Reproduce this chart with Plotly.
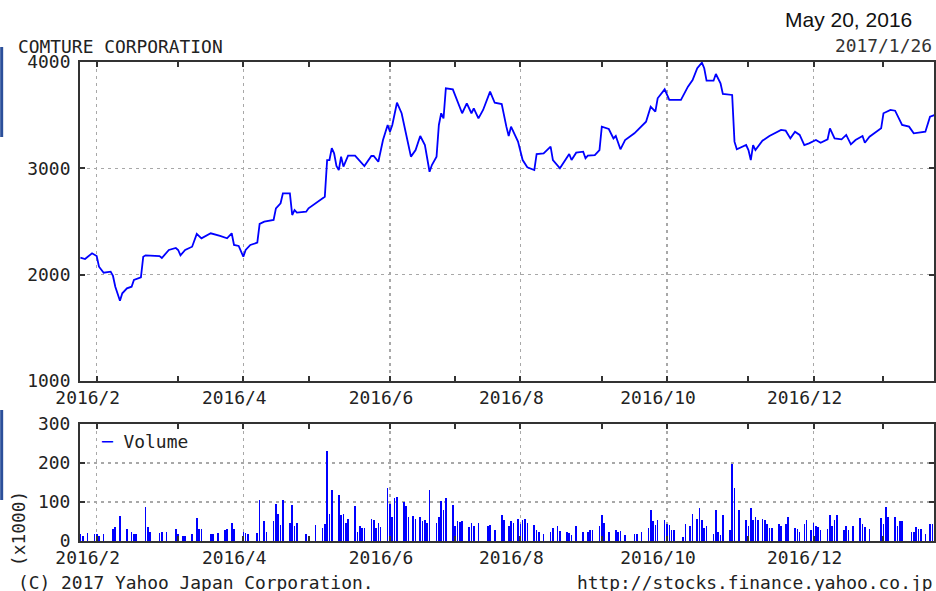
import plotly.graph_objects as go

# ---------------- data ----------------
price_dates = [
    "2016-01-25", "2016-01-27", "2016-01-30", "2016-02-01", "2016-02-02", "2016-02-04", "2016-02-07",
    "2016-02-08", "2016-02-09", "2016-02-11", "2016-02-12", "2016-02-14", "2016-02-16", "2016-02-17",
    "2016-02-20", "2016-02-21", "2016-02-22", "2016-02-28", "2016-02-29", "2016-03-03", "2016-03-06",
    "2016-03-07", "2016-03-08", "2016-03-10", "2016-03-13", "2016-03-15", "2016-03-17", "2016-03-21",
    "2016-03-25", "2016-03-28", "2016-03-30", "2016-03-31", "2016-04-02", "2016-04-04", "2016-04-05",
    "2016-04-07", "2016-04-10", "2016-04-11", "2016-04-13", "2016-04-17", "2016-04-18", "2016-04-20",
    "2016-04-21", "2016-04-24", "2016-04-25", "2016-04-26", "2016-04-27", "2016-05-01", "2016-05-02",
    "2016-05-05", "2016-05-09", "2016-05-10", "2016-05-11", "2016-05-12", "2016-05-13", "2016-05-14",
    "2016-05-15", "2016-05-16", "2016-05-17", "2016-05-19", "2016-05-22", "2016-05-26", "2016-05-29",
    "2016-05-30", "2016-06-01", "2016-06-03", "2016-06-05", "2016-06-06", "2016-06-07", "2016-06-09",
    "2016-06-11", "2016-06-13", "2016-06-15", "2016-06-17", "2016-06-19", "2016-06-21", "2016-06-23",
    "2016-06-24", "2016-06-26", "2016-06-27", "2016-06-28", "2016-06-29", "2016-06-30", "2016-07-03",
    "2016-07-04", "2016-07-07", "2016-07-09", "2016-07-11", "2016-07-12", "2016-07-14", "2016-07-16",
    "2016-07-19", "2016-07-21", "2016-07-24", "2016-07-26", "2016-07-27", "2016-07-28", "2016-07-31",
    "2016-08-02", "2016-08-04", "2016-08-07", "2016-08-08", "2016-08-11", "2016-08-14", "2016-08-15",
    "2016-08-18", "2016-08-22", "2016-08-23", "2016-08-25", "2016-08-28", "2016-08-29", "2016-08-30",
    "2016-09-02", "2016-09-04", "2016-09-05", "2016-09-08", "2016-09-10", "2016-09-11", "2016-09-13",
    "2016-09-15", "2016-09-19", "2016-09-24", "2016-09-26", "2016-09-28", "2016-09-29", "2016-10-02",
    "2016-10-04", "2016-10-09", "2016-10-12", "2016-10-14", "2016-10-16", "2016-10-18", "2016-10-19",
    "2016-10-20", "2016-10-23", "2016-10-24", "2016-10-26", "2016-10-27", "2016-10-31", "2016-11-01",
    "2016-11-02", "2016-11-04", "2016-11-06", "2016-11-07", "2016-11-08", "2016-11-09", "2016-11-10",
    "2016-11-13", "2016-11-16", "2016-11-21", "2016-11-23", "2016-11-25", "2016-11-27", "2016-11-29",
    "2016-12-01", "2016-12-03", "2016-12-06", "2016-12-08", "2016-12-11", "2016-12-12", "2016-12-14",
    "2016-12-17", "2016-12-19", "2016-12-21", "2016-12-23", "2016-12-26", "2016-12-27", "2016-12-29",
    "2017-01-01", "2017-01-03", "2017-01-04", "2017-01-07", "2017-01-09", "2017-01-12", "2017-01-15",
    "2017-01-17", "2017-01-22", "2017-01-24", "2017-01-26",
]
price_values = [
    2160, 2147, 2201, 2175, 2075, 2018, 2028,
    1988, 1887, 1755, 1825, 1872, 1887, 1950,
    1975, 2169, 2182, 2175, 2157, 2232, 2251,
    2232, 2182, 2232, 2263, 2383, 2342, 2389,
    2364, 2342, 2389, 2279, 2270, 2169, 2232,
    2279, 2301, 2477, 2498, 2514, 2624, 2671,
    2765, 2765, 2561, 2608, 2583, 2592, 2624,
    2671, 2733, 3078, 3078, 3190, 3141, 3022,
    2984, 3110, 3016, 3119, 3119, 3022, 3116,
    3116, 3062, 3266, 3408, 3345, 3408, 3617,
    3518, 3314, 3110, 3172, 3304, 3219, 2968,
    3031, 3110, 3408, 3518, 3470, 3753, 3743,
    3690, 3518, 3612, 3518, 3565, 3470, 3549,
    3721, 3617, 3605, 3392, 3304, 3392, 3251,
    3078, 3010, 2984, 3135, 3141, 3204, 3078,
    3000, 3135, 3078, 3147, 3157, 3094, 3119,
    3125, 3172, 3392, 3370, 3282, 3304, 3179,
    3266, 3329, 3439, 3580, 3533, 3659, 3743,
    3643, 3643, 3768, 3831, 3941, 3994, 3941,
    3824, 3824, 3887, 3800, 3699, 3690, 3251,
    3179, 3198, 3219, 3172, 3078, 3219, 3172,
    3260, 3304, 3361, 3354, 3282, 3345, 3314,
    3219, 3235, 3266, 3241, 3273, 3376, 3282,
    3273, 3314, 3226, 3266, 3304, 3241, 3298,
    3345, 3376, 3518, 3549, 3542, 3408, 3392,
    3329, 3345, 3486, 3502,
]

volume_dates = [
    "2016-01-25", "2016-01-26", "2016-01-28", "2016-01-31", "2016-02-01", "2016-02-02", "2016-02-04",
    "2016-02-08", "2016-02-09", "2016-02-11", "2016-02-14", "2016-02-16", "2016-02-17", "2016-02-18",
    "2016-02-22", "2016-02-23", "2016-02-24", "2016-02-28", "2016-02-29", "2016-03-02", "2016-03-06",
    "2016-03-07", "2016-03-09", "2016-03-10", "2016-03-13", "2016-03-15", "2016-03-16", "2016-03-17",
    "2016-03-21", "2016-03-22", "2016-03-24", "2016-03-27", "2016-03-28", "2016-03-30", "2016-03-31",
    "2016-04-04", "2016-04-05", "2016-04-06", "2016-04-10", "2016-04-11", "2016-04-13", "2016-04-14",
    "2016-04-17", "2016-04-18", "2016-04-19", "2016-04-20", "2016-04-21", "2016-04-24", "2016-04-25",
    "2016-04-26", "2016-04-27", "2016-05-01", "2016-05-05", "2016-05-08", "2016-05-09", "2016-05-10",
    "2016-05-11", "2016-05-12", "2016-05-15", "2016-05-16", "2016-05-17", "2016-05-18", "2016-05-19",
    "2016-05-22", "2016-05-23", "2016-05-24", "2016-05-25", "2016-05-26", "2016-05-29", "2016-05-30",
    "2016-05-31", "2016-06-01", "2016-06-02", "2016-06-05", "2016-06-06", "2016-06-07", "2016-06-08",
    "2016-06-09", "2016-06-12", "2016-06-13", "2016-06-14", "2016-06-16", "2016-06-17", "2016-06-19",
    "2016-06-20", "2016-06-21", "2016-06-22", "2016-06-23", "2016-06-26", "2016-06-27", "2016-06-28",
    "2016-06-29", "2016-06-30", "2016-07-03", "2016-07-04", "2016-07-05", "2016-07-06", "2016-07-07",
    "2016-07-10", "2016-07-11", "2016-07-12", "2016-07-14", "2016-07-18", "2016-07-19", "2016-07-21",
    "2016-07-24", "2016-07-25", "2016-07-27", "2016-07-28", "2016-07-29", "2016-07-31", "2016-08-01",
    "2016-08-02", "2016-08-03", "2016-08-04", "2016-08-07", "2016-08-08", "2016-08-09", "2016-08-11",
    "2016-08-14", "2016-08-15", "2016-08-17", "2016-08-18", "2016-08-21", "2016-08-22", "2016-08-23",
    "2016-08-25", "2016-08-28", "2016-08-30", "2016-08-31", "2016-09-01", "2016-09-04", "2016-09-05",
    "2016-09-06", "2016-09-08", "2016-09-11", "2016-09-12", "2016-09-13", "2016-09-15", "2016-09-19",
    "2016-09-20", "2016-09-22", "2016-09-25", "2016-09-26", "2016-09-27", "2016-09-28", "2016-09-29",
    "2016-10-02", "2016-10-03", "2016-10-04", "2016-10-05", "2016-10-06", "2016-10-10", "2016-10-11",
    "2016-10-13", "2016-10-14", "2016-10-16", "2016-10-17", "2016-10-18", "2016-10-19", "2016-10-20",
    "2016-10-23", "2016-10-24", "2016-10-25", "2016-10-26", "2016-10-27", "2016-10-30", "2016-10-31",
    "2016-11-01", "2016-11-03", "2016-11-06", "2016-11-07", "2016-11-08", "2016-11-09", "2016-11-10",
    "2016-11-11", "2016-11-13", "2016-11-14", "2016-11-15", "2016-11-16", "2016-11-17", "2016-11-20",
    "2016-11-21", "2016-11-23", "2016-11-24", "2016-11-27", "2016-11-28", "2016-11-29", "2016-12-01",
    "2016-12-02", "2016-12-04", "2016-12-05", "2016-12-06", "2016-12-07", "2016-12-08", "2016-12-11",
    "2016-12-12", "2016-12-13", "2016-12-14", "2016-12-15", "2016-12-18", "2016-12-19", "2016-12-20",
    "2016-12-22", "2016-12-25", "2016-12-26", "2016-12-27", "2016-12-29", "2017-01-03", "2017-01-04",
    "2017-01-05", "2017-01-06", "2017-01-09", "2017-01-10", "2017-01-11", "2017-01-12", "2017-01-16",
    "2017-01-17", "2017-01-18", "2017-01-19", "2017-01-20", "2017-01-22", "2017-01-24", "2017-01-25",
]
volume_values = [
    17, 13, 21, 19, 17, 13, 17,
    30, 36, 64, 31, 23, 17, 17,
    86, 36, 22, 21, 23, 22, 31,
    17, 13, 13, 19, 59, 30, 31,
    17, 17, 21, 28, 30, 45, 31,
    22, 20, 19, 21, 104, 52, 22,
    52, 96, 68, 42, 106, 47, 92,
    38, 45, 18, 40, 34, 43, 232,
    70, 132, 117, 66, 68, 46, 56,
    89, 23, 38, 33, 33, 56, 53,
    33, 46, 36, 136, 94, 62, 110,
    113, 100, 89, 62, 64, 56, 62,
    51, 55, 46, 132, 46, 62, 103,
    79, 109, 93, 38, 51, 49, 51,
    36, 46, 38, 46, 38, 41, 27,
    66, 55, 38, 51, 46, 56, 44,
    53, 56, 46, 40, 27, 24, 19,
    23, 34, 38, 25, 23, 21, 15,
    38, 23, 23, 27, 27, 38, 66,
    46, 23, 29, 23, 25, 15, 19,
    19, 23, 34, 80, 51, 42, 53,
    53, 43, 42, 29, 29, 10, 43,
    38, 70, 56, 85, 53, 34, 38,
    19, 80, 23, 15, 66, 29, 198,
    136, 80, 53, 38, 85, 53, 62,
    53, 56, 53, 43, 34, 34, 43,
    38, 43, 62, 34, 32, 23, 43,
    53, 27, 45, 38, 35, 28, 32,
    66, 38, 53, 66, 28, 38, 28,
    38, 58, 43, 36, 32, 58, 43,
    86, 62, 62, 38, 52, 52, 24,
    24, 35, 32, 32, 19, 43, 43,
]

month_tick_dates = [
    "2016-02-01", "2016-03-07", "2016-04-04", "2016-05-02", "2016-06-06", "2016-07-04",
    "2016-08-01", "2016-09-05", "2016-10-03", "2016-11-07", "2016-12-05", "2017-01-04",
]
month_tick_labels = ["2016/2", "", "2016/4", "", "2016/6", "", "2016/8", "", "2016/10", "", "2016/12", ""]

price_ticks = [1000, 2000, 3000, 4000]
volume_ticks = [0, 100, 200, 300]

company = "COMTURE CORPORATION"
as_of = "2017/1/26"
stamp = "May 20, 2016"

# ---------------- layout helpers ----------------
W, H = 936, 591
L, R, T, B = 80, 0, 62, 50
PW, PH = W - L - R, H - T - B


def px(x):
    return (x - L) / PW


def py(y):
    return (H - B - y) / PH


MONO = "DejaVu Sans Mono"
FS = 17.9
TXT = "#222222"
GRID = "#a8a8a8"
FRAME = "#333333"
BLUE = "#0000ff"

grid_vals = [d for d, t in zip(month_tick_dates, month_tick_labels) if t]

x_range = ["2016-01-24 20:00", "2017-01-25 17:00"]

fig = go.Figure()
fig.add_trace(go.Scatter(
    x=price_dates, y=price_values, mode="lines",
    line=dict(color=BLUE, width=1.8), xaxis="x", yaxis="y", showlegend=False,
))
fig.add_trace(go.Bar(
    x=volume_dates, y=volume_values, marker=dict(color=BLUE, line=dict(width=0)),
    width=0.7 * 86400000, xaxis="x2", yaxis="y2", showlegend=False,
))

xcommon = dict(
    type="date", range=x_range, tickmode="array", tickvals=month_tick_dates, ticktext=month_tick_labels,
    ticks="inside", ticklen=5, tickwidth=2, tickcolor=FRAME,
    showline=True, linecolor=FRAME, linewidth=2, mirror="ticks",
    showgrid=False,
    minor=dict(tickvals=grid_vals, ticks="", showgrid=True, gridcolor=GRID,
               griddash="3px,4px", gridwidth=1.5),
    tickfont=dict(family=MONO, size=FS, color=TXT), ticklabelshift=-9,
    zeroline=False, fixedrange=True,
)
ycommon = dict(
    tickmode="array", ticks="inside", ticklen=5, tickwidth=2, tickcolor=FRAME,
    showline=True, linecolor=FRAME, linewidth=2, mirror="ticks",
    showgrid=True, gridcolor=GRID, griddash="3px,4px", gridwidth=1.5,
    tickfont=dict(family=MONO, size=FS, color=TXT), zeroline=False,
    ticklabelstandoff=4, fixedrange=True,
)

fig.update_layout(
    width=W, height=H, margin=dict(l=L, r=R, t=T, b=B, pad=0),
    paper_bgcolor="white", plot_bgcolor="white", bargap=0,
    xaxis=dict(domain=[0, 1], anchor="y", **xcommon),
    xaxis2=dict(domain=[0, 1], anchor="y2", matches="x", **xcommon),
    yaxis=dict(domain=[py(381), 1], anchor="x", range=[1000, 4000], tickvals=price_ticks, **ycommon),
    yaxis2=dict(domain=[0, py(424)], anchor="x2", range=[0, 300], tickvals=volume_ticks, **ycommon),
)

ann = [
    dict(text=company, x=px(16), y=py(46), xanchor="left", yanchor="middle",
         font=dict(family=MONO, size=FS, color=TXT)),
    dict(text=as_of, x=px(936), y=py(45), xanchor="right", yanchor="middle",
         font=dict(family=MONO, size=FS, color="#333333")),
    dict(text=stamp, x=px(916), y=py(19), xanchor="right", yanchor="middle",
         font=dict(family="Liberation Sans", size=21, color="#111111")),
    dict(text="<span style='color:#0000ff'>\u2500</span> Volume", x=px(99), y=py(441),
         xanchor="left", yanchor="middle", font=dict(family=MONO, size=FS, color=TXT)),
    dict(text="(x1000)", x=px(18), y=py(529), xanchor="center", yanchor="middle", textangle=-90,
         font=dict(family=MONO, size=FS, color=TXT)),
    dict(text="(C) 2017 Yahoo Japan Corporation.", x=px(16), y=py(582), xanchor="left",
         yanchor="middle", font=dict(family=MONO, size=FS, color=TXT)),
    dict(text="http://stocks.finance.yahoo.co.jp", x=px(936), y=py(582), xanchor="right",
         yanchor="middle", font=dict(family=MONO, size=FS, color=TXT)),
]
for a in ann:
    a.update(xref="paper", yref="paper", showarrow=False)
fig.update_layout(annotations=ann)

# dark-blue side markers at the left edge
for y0, y1 in [(47, 137), (410, 500)]:
    fig.add_shape(type="rect", xref="paper", yref="paper", x0=px(0), x1=px(3),
                  y0=py(y1), y1=py(y0), fillcolor="#2B4F9A", line=dict(width=0), layer="above")

fig.write_html(
    "out.html",
    config={"displayModeBar": False, "staticPlot": True},
    post_script="document.body.style.margin='0';document.body.style.padding='0';"
                "document.body.style.overflow='hidden';",
)
